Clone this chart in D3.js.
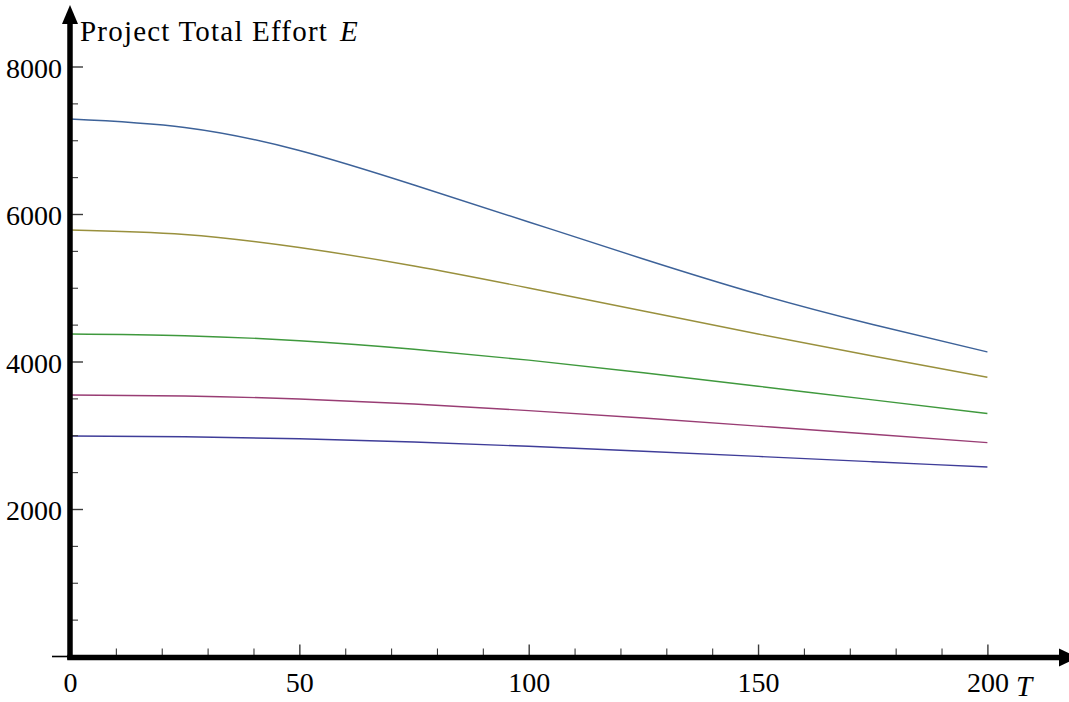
<!DOCTYPE html>
<html>
<head>
<meta charset="utf-8">
<script src="https://cdn.jsdelivr.net/npm/d3@7"></script>
<style>
    html, body { margin: 0; padding: 0; background: #fff; }
    svg { display: block; }
    .tick-label text { font-family: "Liberation Serif", "Times New Roman", serif; font-size: 28px; fill: #000; }
    .axis-title { font-family: "Liberation Serif", "Times New Roman", serif; font-size: 29px; fill: #000; }
    .ticks line { stroke: #3a3a3a; }
    .effort-line { fill: none; stroke-width: 1.4; }
</style>
</head>
<body>
<div id="chart"></div>
<script>
// Project total effort E against T

const tValues = [0, 25, 50, 75, 100, 125, 150, 175, 200];

// one series per curve, bottom to top
const effortSeries1 = [2990, 2980, 2953, 2908, 2850, 2784, 2713, 2641, 2569];
const effortSeries2 = [3546, 3532, 3492, 3424, 3334, 3233, 3124, 3013, 2900];
const effortSeries3 = [4373, 4350, 4282, 4167, 4018, 3848, 3665, 3479, 3294];
const effortSeries4 = [5783, 5722, 5546, 5295, 4997, 4685, 4373, 4075, 3786];
const effortSeries5 = [7288, 7173, 6861, 6393, 5892, 5390, 4915, 4502, 4129];

const seriesColors = ['#3f3d99', '#993d74', '#3f993d', '#99903d', '#3d6299'];

const xMajorTicks = [0, 50, 100, 150, 200];
const xMinorTicks = [10, 20, 30, 40, 60, 70, 80, 90, 110, 120, 130, 140, 160, 170, 180, 190];
const yMajorTicks = [2000, 4000, 6000, 8000];
const yMinorTicks = [500, 1000, 1500, 2500, 3000, 3500, 4500, 5000, 5500, 6500, 7000, 7500];

const yTitle = 'Project Total Effort';
const yTitleVar = 'E';
const xTitleVar = 'T';

const width = 1069;
const height = 702;

function drawChart() {
    const svg = d3.select('#chart')
        .append('svg')
        .attr('width', width)
        .attr('height', height);

    // Scales (origin sits at 70, 656.5)
    const x = d3.scaleLinear().domain([0, 200]).range([70, 987.4]);
    const y = d3.scaleLinear().domain([0, 8000]).range([656.5, 66.5]);

    const x0 = x(0);
    const y0 = y(0);

    // Curves first, axes on top
    const allSeries = [effortSeries1, effortSeries2, effortSeries3, effortSeries4, effortSeries5];
    const line = d3.line()
        .x((d, i) => x(tValues[i]))
        .y(d => y(d))
        .curve(d3.curveNatural);

    svg.selectAll('path.effort-line')
        .data(allSeries)
        .enter()
        .append('path')
        .attr('class', 'effort-line')
        .attr('stroke', (d, i) => seriesColors[i])
        .attr('d', line);

    // Y ticks (pointing right, inside the plot)
    svg.append('g')
        .attr('class', 'ticks')
        .attr('transform', `translate(${x0},0)`)
        .call(d3.axisRight(y).tickValues(yMajorTicks).tickSize(13).tickFormat(''))
        .call(g => g.select('.domain').remove())
        .call(g => g.selectAll('line').attr('stroke-width', 1.4));

    svg.append('g')
        .attr('class', 'ticks')
        .attr('transform', `translate(${x0},0)`)
        .call(d3.axisRight(y).tickValues(yMinorTicks).tickSize(8).tickFormat(''))
        .call(g => g.select('.domain').remove())
        .call(g => g.selectAll('line').attr('stroke-width', 1.1));

    // X ticks (pointing up)
    svg.append('g')
        .attr('class', 'ticks')
        .attr('transform', `translate(0,${y0})`)
        .call(d3.axisTop(x).tickValues(xMajorTicks.filter(v => v > 0)).tickSize(12).tickFormat(''))
        .call(g => g.select('.domain').remove())
        .call(g => g.selectAll('line').attr('stroke-width', 1.4));

    svg.append('g')
        .attr('class', 'ticks')
        .attr('transform', `translate(0,${y0})`)
        .call(d3.axisTop(x).tickValues(xMinorTicks).tickSize(8).tickFormat(''))
        .call(g => g.select('.domain').remove())
        .call(g => g.selectAll('line').attr('stroke-width', 1.1));

    // Tick labels
    svg.append('g')
        .attr('class', 'tick-label')
        .attr('transform', `translate(${x0},0)`)
        .call(d3.axisLeft(y).tickValues(yMajorTicks).tickSize(0).tickPadding(8).tickFormat(d3.format('d')))
        .call(g => g.select('.domain').remove())
        .call(g => g.selectAll('text').attr('font-family', null).attr('font-size', null).attr('dy', '0.38em'));

    svg.append('g')
        .attr('class', 'tick-label')
        .attr('transform', `translate(0,${y0})`)
        .call(d3.axisBottom(x).tickValues(xMajorTicks).tickSize(0).tickPadding(16).tickFormat(d3.format('d')))
        .call(g => g.select('.domain').remove())
        .call(g => g.selectAll('text').attr('font-family', null).attr('font-size', null));

    // Short stub left of the origin
    svg.append('line')
        .attr('x1', 52).attr('x2', x0)
        .attr('y1', y0).attr('y2', y0)
        .attr('stroke', '#000')
        .attr('stroke-width', 1.6);

    // Thick axis lines with arrow heads
    svg.append('line')
        .attr('x1', x0).attr('x2', x0)
        .attr('y1', y0 + 3).attr('y2', 20)
        .attr('stroke', '#000')
        .attr('stroke-width', 5.5);

    svg.append('line')
        .attr('x1', x0 - 2.75).attr('x2', 1062)
        .attr('y1', y0 + 1).attr('y2', y0 + 1)
        .attr('stroke', '#000')
        .attr('stroke-width', 5.5);

    svg.append('path')
        .attr('d', `M${x0},5 L${x0 + 8},24 L${x0 - 8},24 Z`)
        .attr('fill', '#000');

    svg.append('path')
        .attr('d', `M1078,${y0 + 1} L1059,${y0 - 8} L1059,${y0 + 10} Z`)
        .attr('fill', '#000');

    // Axis titles
    const yt = svg.append('text')
        .attr('class', 'axis-title')
        .attr('x', 80)
        .attr('y', 41)
        .attr('letter-spacing', 1.2);
    yt.append('tspan').text(yTitle);
    yt.append('tspan').attr('dx', 12).attr('font-style', 'italic').text(yTitleVar);

    svg.append('text')
        .attr('class', 'axis-title')
        .attr('x', 1016)
        .attr('y', 696)
        .attr('font-style', 'italic')
        .text(xTitleVar);
}

document.addEventListener('DOMContentLoaded', drawChart);
</script>
</body>
</html>
